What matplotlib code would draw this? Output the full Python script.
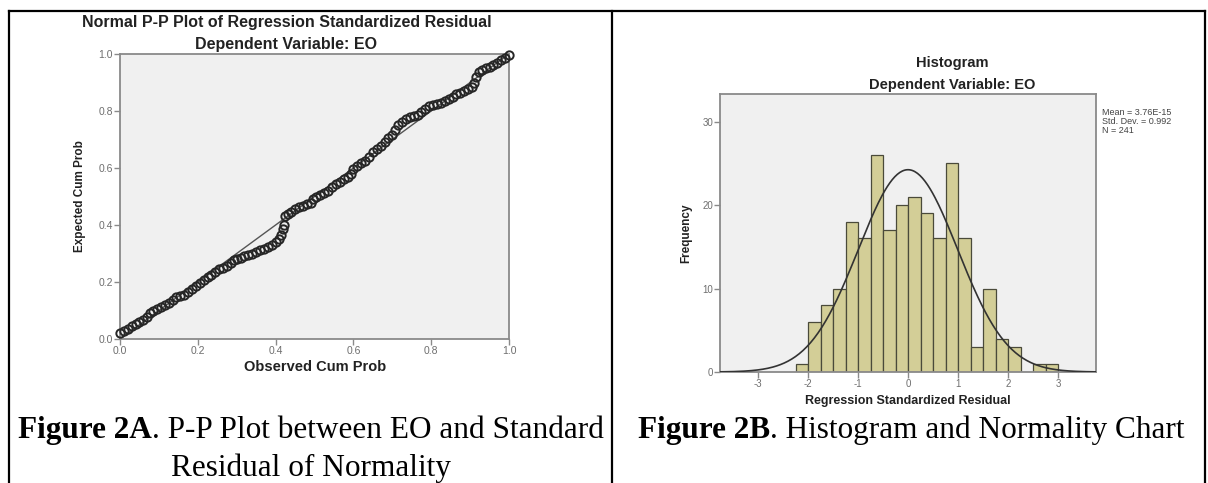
import numpy as np
import matplotlib

matplotlib.use("Agg")
import matplotlib.pyplot as plt
from matplotlib.lines import Line2D

# P-P plot: observed vs expected cumulative probability
obs_cum = [
    0.000, 0.010, 0.020, 0.030, 0.040, 0.050, 0.060, 0.070, 0.078, 0.085,
    0.095, 0.105, 0.115, 0.125, 0.135, 0.145, 0.155, 0.165, 0.175, 0.185,
    0.195, 0.205, 0.215, 0.225, 0.235, 0.245, 0.255, 0.265, 0.275, 0.285,
    0.292, 0.300, 0.310, 0.320, 0.330, 0.340, 0.350, 0.360, 0.370, 0.380,
    0.390, 0.400, 0.408, 0.415, 0.420, 0.422, 0.425, 0.432, 0.440, 0.450,
    0.460, 0.470, 0.480, 0.490, 0.495, 0.505, 0.515, 0.525, 0.535, 0.545,
    0.555, 0.565, 0.575, 0.585, 0.595, 0.600, 0.610, 0.620, 0.630, 0.640,
    0.650, 0.660, 0.670, 0.680, 0.690, 0.700, 0.708, 0.715, 0.725, 0.735,
    0.745, 0.755, 0.765, 0.775, 0.785, 0.795, 0.805, 0.815, 0.825, 0.835,
    0.845, 0.855, 0.865, 0.875, 0.885, 0.895, 0.905, 0.910, 0.915, 0.922,
    0.930, 0.940, 0.950, 0.960, 0.970, 0.980, 0.990, 1.000,
]
exp_cum = [
    0.020, 0.028, 0.036, 0.045, 0.052, 0.058, 0.066, 0.076, 0.090, 0.100,
    0.106, 0.112, 0.120, 0.128, 0.138, 0.146, 0.150, 0.156, 0.166, 0.176,
    0.186, 0.196, 0.206, 0.218, 0.226, 0.236, 0.244, 0.250, 0.256, 0.266,
    0.278, 0.282, 0.285, 0.290, 0.294, 0.298, 0.305, 0.312, 0.316, 0.322,
    0.330, 0.340, 0.352, 0.365, 0.385, 0.400, 0.430, 0.438, 0.446, 0.455,
    0.462, 0.468, 0.472, 0.478, 0.492, 0.500, 0.506, 0.514, 0.520, 0.532,
    0.544, 0.552, 0.560, 0.570, 0.578, 0.598, 0.606, 0.616, 0.626, 0.640,
    0.655, 0.665, 0.676, 0.690, 0.705, 0.715, 0.735, 0.752, 0.762, 0.772,
    0.778, 0.782, 0.786, 0.796, 0.808, 0.816, 0.820, 0.824, 0.828, 0.834,
    0.842, 0.850, 0.858, 0.864, 0.870, 0.878, 0.884, 0.900, 0.920, 0.936,
    0.944, 0.950, 0.956, 0.962, 0.970, 0.978, 0.986, 0.996,
]
pp_ticks = [0.0, 0.2, 0.4, 0.6, 0.8, 1.0]

# Histogram of standardized residuals
bin_lefts = [
    -2.25, -2.0, -1.75, -1.5, -1.25, -1.0, -0.75, -0.5, -0.25, 0.0, 0.25,
    0.5, 0.75, 1.0, 1.25, 1.5, 1.75, 2.0, 2.25, 2.5, 2.75,
]
counts = [1, 6, 8, 10, 18, 16, 26, 17, 20, 21, 19, 16, 25, 16, 3, 10, 4, 3, 0, 1, 1]
BIN_WIDTH = 0.25
MEAN, STD, N = 3.76e-15, 0.992, 241
hist_xticks = [-3, -2, -1, 0, 1, 2, 3]
hist_yticks = [0, 10, 20, 30]

W, H = 1208, 483
SANS = "Liberation Sans"
SERIF = "Liberation Serif"
GRAY = "#8a8a8a"
TICK_GRAY = "#6e6e6e"
PANEL_BG = "#f0f0f0"


def fx(px):
    return px / W


def fy(py):
    return 1 - py / H


def axes_box(left, top, right, bottom):
    return [fx(left), fy(bottom), (right - left) / W, (bottom - top) / H]


def style_axes(ax):
    ax.set_facecolor(PANEL_BG)
    for sp in ax.spines.values():
        sp.set_color(GRAY)
        sp.set_linewidth(1.3)
    ax.tick_params(direction="out", length=4, width=1, color=GRAY,
                   labelcolor=TICK_GRAY, pad=1)


fig = plt.figure(figsize=(W / 100, H / 100), dpi=100)
fig.patch.set_facecolor("white")

# ---- Left: P-P plot ----
ax1 = fig.add_axes(axes_box(120, 54, 509, 339))
style_axes(ax1)
ax1.plot([0, 1], [0, 1], color="#555555", lw=1.0, zorder=2)
ax1.plot(obs_cum, exp_cum, linestyle="none", marker="o", markersize=6,
         markerfacecolor="none", markeredgecolor="#262626",
         markeredgewidth=1.4, zorder=3, clip_on=False)
ax1.set_xlim(0, 1)
ax1.set_ylim(0, 1)
ax1.set_xticks(pp_ticks)
ax1.set_yticks(pp_ticks)
ax1.set_xticklabels([f"{t:.1f}" for t in pp_ticks], fontsize=7.5, family=SANS)
ax1.set_yticklabels([f"{t:.1f}" for t in pp_ticks], fontsize=7.5, family=SANS)

fig.text(fx(287), fy(22), "Normal P-P Plot of Regression Standardized Residual",
         ha="center", va="center", fontsize=11.5, fontweight="bold",
         family=SANS, color="#222222")
fig.text(fx(286), fy(45), "Dependent Variable: EO", ha="center", va="center",
         fontsize=11.5, fontweight="bold", family=SANS, color="#222222")
fig.text(fx(80), fy(196), "Expected Cum Prob", ha="center", va="center",
         rotation=90, fontsize=8.5, fontweight="bold", family=SANS,
         color="#222222")
fig.text(fx(315), fy(367), "Observed Cum Prob", ha="center", va="center",
         fontsize=10.5, fontweight="bold", family=SANS, color="#222222")

# ---- Right: histogram ----
ax2 = fig.add_axes(axes_box(720, 94, 1096, 372))
style_axes(ax2)
ax2.bar(bin_lefts, counts, width=BIN_WIDTH, align="edge", color="#d3ce97",
        edgecolor="#4a4a3a", linewidth=0.9, zorder=2)
xs = np.linspace(-3.76, 3.76, 300)
curve = N * BIN_WIDTH * np.exp(-0.5 * ((xs - MEAN) / STD) ** 2) / (STD * np.sqrt(2 * np.pi))
ax2.plot(xs, curve, color="#333333", lw=1.2, zorder=3)
ax2.set_xlim(-3.76, 3.76)
ax2.set_ylim(0, 33.3)
ax2.set_xticks(hist_xticks)
ax2.set_yticks(hist_yticks)
ax2.set_xticklabels([str(t) for t in hist_xticks], fontsize=7, family=SANS)
ax2.set_yticklabels([str(t) for t in hist_yticks], fontsize=7, family=SANS)

fig.text(fx(952), fy(63), "Histogram", ha="center", va="center",
         fontsize=10.5, fontweight="bold", family=SANS, color="#222222")
fig.text(fx(952), fy(85), "Dependent Variable: EO", ha="center", va="center",
         fontsize=10.5, fontweight="bold", family=SANS, color="#222222")
fig.text(fx(686), fy(233), "Frequency", ha="center", va="center", rotation=90,
         fontsize=8.5, fontweight="bold", family=SANS, color="#222222")
fig.text(fx(908), fy(401), "Regression Standardized Residual", ha="center",
         va="center", fontsize=9, fontweight="bold", family=SANS,
         color="#222222")
fig.text(fx(1102), fy(108),
         f"Mean = 3.76E-15\nStd. Dev. = {STD:.3f}\nN = {N}",
         ha="left", va="top", fontsize=6.5, family=SANS, color="#444444",
         linespacing=1.0)

# ---- Table borders ----
for x0, y0, x1, y1 in [(9, 11, 1205, 11), (9, 11, 9, 483),
                       (612, 11, 612, 483), (1205, 11, 1205, 483)]:
    fig.add_artist(Line2D([fx(x0), fx(x1)], [fy(y0), fy(y1)],
                          transform=fig.transFigure, color="black", lw=1.6))

# ---- Captions (bold figure number + regular description, centred) ----
renderer = fig.canvas.get_renderer()


def caption(parts, cx, y_px, size=22.5):
    texts = []
    for s, weight in parts:
        texts.append(fig.text(0, fy(y_px), s, ha="left", va="baseline",
                              fontsize=size, fontweight=weight, family=SERIF,
                              color="black"))
    widths = [t.get_window_extent(renderer).width for t in texts]
    x = cx - sum(widths) / 2
    for t, w in zip(texts, widths):
        t.set_x(fx(x))
        x += w


caption([("Figure 2A", "bold"), (". P-P Plot between EO and Standard", "normal")],
        311, 438)
caption([("Residual of Normality", "normal")], 311, 476)
caption([("Figure 2B", "bold"), (". Histogram and Normality Chart", "normal")],
        911, 438)

fig.savefig("out.png", dpi=100, facecolor="white")
